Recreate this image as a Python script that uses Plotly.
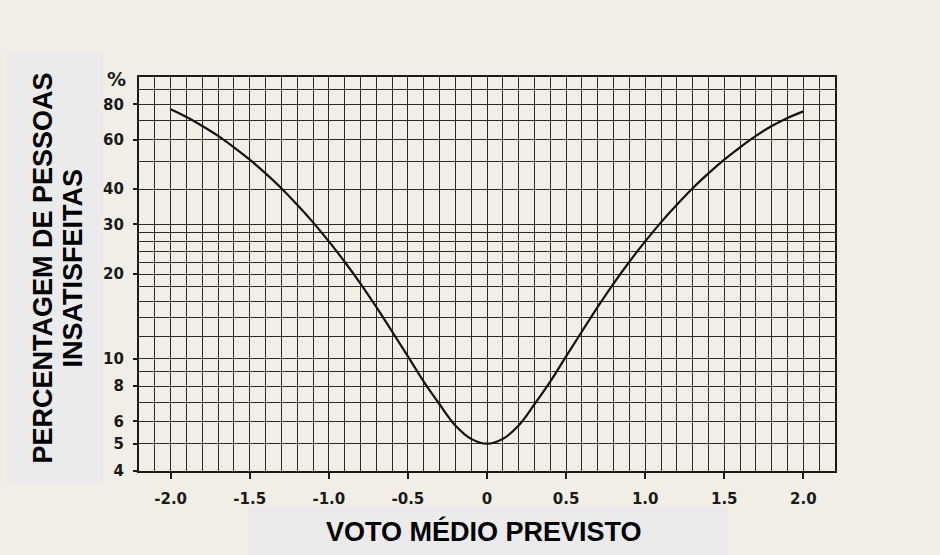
import plotly.graph_objects as go

# PMV values (predicted mean vote)
pmv = [-2.0, -1.9, -1.8, -1.7, -1.6, -1.5, -1.4, -1.3, -1.2, -1.1, -1.0,
       -0.9, -0.8, -0.7, -0.6, -0.5, -0.4, -0.3, -0.2, -0.1, 0.0,
       0.1, 0.2, 0.3, 0.4, 0.5, 0.6, 0.7, 0.8, 0.9, 1.0,
       1.1, 1.2, 1.3, 1.4, 1.5, 1.6, 1.7, 1.8, 1.9, 2.0]
# PPD values (%)
ppd = [76.8, 72.1, 67.0, 61.8, 56.3, 50.9, 45.5, 40.3, 35.2, 30.5, 26.1,
       22.1, 18.5, 15.3, 12.5, 10.2, 8.3, 6.9, 5.8, 5.2, 5.0,
       5.2, 5.8, 6.9, 8.3, 10.2, 12.5, 15.3, 18.5, 22.1, 26.1,
       30.5, 35.2, 40.3, 45.5, 50.9, 56.3, 61.8, 67.0, 71.6, 75.5]

x_tickvals = [-2.0, -1.5, -1.0, -0.5, 0, 0.5, 1.0, 1.5, 2.0]
x_ticktext = ["-2.0", "-1.5", "-1.0", "-0.5", "0", "0.5", "1.0", "1.5", "2.0"]
y_tickvals = [4, 5, 6, 8, 10, 20, 30, 40, 60, 80]
y_ticktext = ["4", "5", "6", "8", "10", "20", "30", "40", "60", "80"]
y_minor = [7, 9, 12, 14, 16, 18, 22, 24, 26, 28, 50, 70, 90]

paper = "#f1eee6"
grey = "#ebebeb"
ink = "#1a1a1a"
tickfont = dict(family="DejaVu Sans, sans-serif", size=15, color=ink)

fig = go.Figure()
fig.add_trace(go.Scatter(x=pmv, y=ppd, mode="lines", line=dict(color="#111111", width=2.2,
                         shape="spline"), showlegend=False, hoverinfo="skip"))

fig.update_layout(
    width=940, height=555,
    margin=dict(l=139, r=105, t=77, b=84),
    paper_bgcolor=paper, plot_bgcolor=paper,
    font=dict(family="Liberation Sans, Arial, sans-serif", color=ink),
)
fig.update_xaxes(
    range=[-2.2, 2.2], tickvals=x_tickvals, ticktext=["<b>%s</b>" % t for t in x_ticktext],
    ticks="outside", ticklen=6, tickwidth=1.5, tickcolor=ink,
    showgrid=True, gridcolor="#2a2a2a", gridwidth=1.1,
    minor=dict(dtick=0.1, tick0=0, showgrid=True, gridcolor="#2a2a2a", gridwidth=1.1, ticks=""),
    showline=True, linecolor=ink, linewidth=2.2, mirror=True, zeroline=False,
    tickfont=tickfont, ticklabelstandoff=7,
)
fig.update_yaxes(
    type="log", range=[0.60206, 2.0], tickvals=y_tickvals, ticktext=["<b>%s</b>" % t for t in y_ticktext],
    ticks="outside", ticklen=4, tickwidth=1.5, tickcolor=ink,
    showgrid=True, gridcolor="#2a2a2a", gridwidth=1.1,
    minor=dict(tickvals=y_minor, showgrid=True, gridcolor="#2a2a2a", gridwidth=1.1, ticks=""),
    showline=True, linecolor=ink, linewidth=2.2, mirror=True, zeroline=False,
    tickfont=tickfont, ticklabelstandoff=6,
)

# grey label boxes
fig.add_shape(type="rect", xref="paper", yref="paper", x0=-0.1897, x1=-0.0517, y0=-0.033, y1=1.0635,
              fillcolor=grey, line=dict(width=0), layer="below")
fig.add_shape(type="rect", xref="paper", yref="paper", x0=0.1566, x1=0.8463, y0=-0.25, y1=-0.0888,
              fillcolor=grey, line=dict(width=0), layer="below")

title_font = dict(size=27, color="#000000", family="Liberation Sans, Arial, sans-serif")
fig.add_annotation(xref="paper", yref="paper", x=-0.1379, y=0.514, text="<b>PERCENTAGEM DE PESSOAS</b>",
                   textangle=-90, showarrow=False, font=title_font, xanchor="center", yanchor="middle")
fig.add_annotation(xref="paper", yref="paper", x=-0.0948, y=0.514, text="<b>INSATISFEITAS</b>",
                   textangle=-90, showarrow=False, font=title_font, xanchor="center", yanchor="middle")
fig.add_annotation(xref="paper", yref="paper", x=0.4957, y=-0.1548, text="<b>VOTO MÉDIO PREVISTO</b>",
                   showarrow=False, font=title_font, xanchor="center", yanchor="middle")
fig.add_annotation(xref="paper", yref="paper", x=-0.032, y=0.995, text="<b>%</b>", showarrow=False,
                   xanchor="center", yanchor="middle",
                   font=dict(family="DejaVu Sans, sans-serif", size=19, color=ink))

fig.write_html("out.html", config={"displayModeBar": False},
               post_script="document.body.style.margin='0';document.body.style.background='%s';" % paper)
